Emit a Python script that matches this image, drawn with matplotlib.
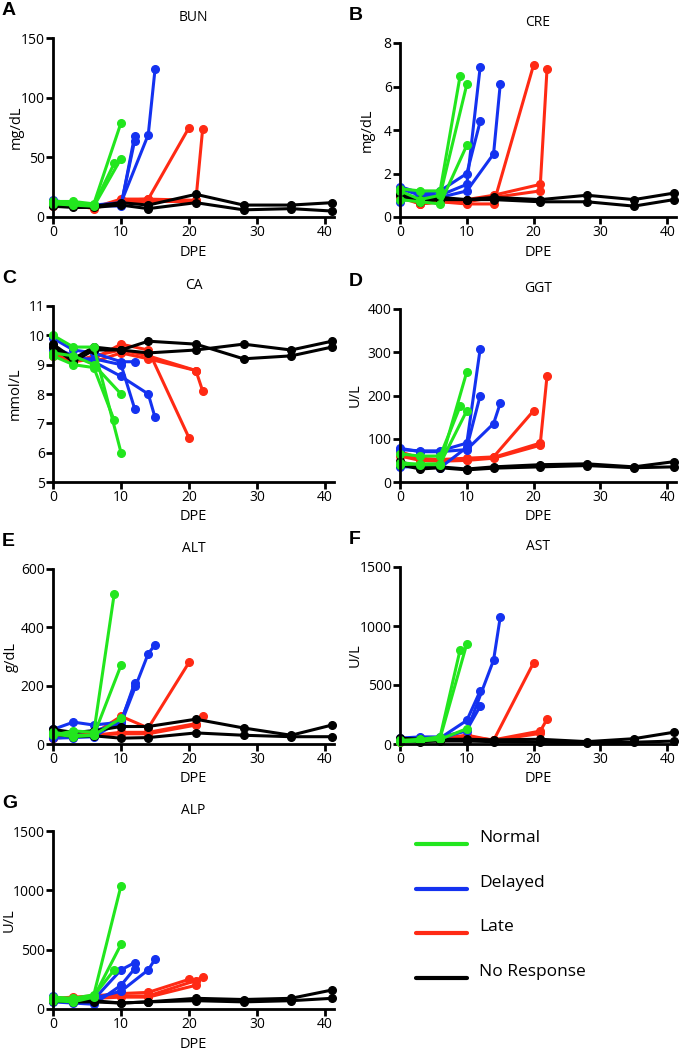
import matplotlib
matplotlib.use("Agg")
import matplotlib.pyplot as plt
from matplotlib.lines import Line2D

plt.rcParams['font.family'] = ['Open Sans', 'DejaVu Sans']

# sampling days (DPE) for each animal, by response group
days_normal = [[0, 3, 6, 9], [0, 3, 6, 10], [0, 3, 6, 10]]
days_delayed = [[0, 3, 6, 10, 12], [0, 3, 6, 10, 12], [0, 3, 6, 10, 14, 15]]
days_late = [[0, 3, 6, 10, 14, 20], [0, 3, 6, 10, 14, 21, 22], [0, 3, 6, 10, 14, 21]]
days_none = [[0, 3, 6, 10, 14, 21, 28, 35, 41], [0, 3, 6, 10, 14, 21, 28, 35, 41]]

# BUN
bun_normal = [[12, 12, 10, 45], [13, 13, 11, 79], [11, 10, 9, 49]]
bun_delayed = [[14, 11, 10, 9, 68], [13, 10, 9, 10, 64], [12, 11, 10, 12, 69, 124]]
bun_late = [[10, 10, 8, 15, 15, 75], [11, 10, 7, 14, 15, 14, 74], [9, 9, 8, 12, 13, 13]]
bun_none = [[10, 9, 9, 12, 10, 19, 10, 10, 12], [9, 8, 8, 10, 7, 12, 6, 7, 5]]

# CRE
cre_normal = [[1.3, 1.2, 1.2, 6.5], [1.2, 0.8, 1.0, 6.1], [0.8, 0.7, 0.6, 3.3]]
cre_delayed = [[1.4, 1.1, 1.0, 1.5, 6.9], [0.7, 1.0, 1.2, 2.0, 4.4], [1.3, 1.0, 0.9, 1.2, 2.9, 6.1]]
cre_late = [[1.0, 0.6, 0.7, 0.6, 0.6, 7.0], [1.1, 0.7, 0.8, 0.8, 1.0, 1.5, 6.8], [0.9, 0.6, 0.7, 0.7, 0.9, 1.2]]
cre_none = [[1.1, 0.8, 0.9, 0.8, 0.9, 0.8, 1.0, 0.8, 1.1], [1.0, 0.7, 0.8, 0.8, 0.8, 0.7, 0.7, 0.5, 0.8]]

# CA
ca_normal = [[9.3, 9.0, 8.9, 7.1], [10.0, 9.6, 9.6, 6.0], [9.4, 9.3, 9.0, 8.0]]
ca_delayed = [[9.9, 9.5, 9.4, 9.1, 9.1], [9.5, 9.2, 9.2, 9.0, 7.5], [9.6, 9.3, 9.1, 8.6, 8.0, 7.2]]
ca_late = [[9.4, 9.1, 9.2, 9.7, 9.5, 6.5], [9.5, 9.2, 9.1, 9.4, 9.2, 8.8, 8.1], [9.3, 9.1, 9.3, 9.5, 9.3, 8.8]]
ca_none = [[9.7, 9.2, 9.6, 9.5, 9.8, 9.7, 9.2, 9.3, 9.6], [9.6, 9.1, 9.5, 9.5, 9.4, 9.5, 9.7, 9.5, 9.8]]

# GGT
ggt_normal = [[65, 60, 60, 175], [45, 40, 40, 255], [40, 42, 42, 165]]
ggt_delayed = [[75, 72, 72, 90, 308], [35, 35, 33, 80, 200], [78, 70, 70, 75, 135, 182]]
ggt_late = [[70, 55, 52, 55, 58, 165], [65, 52, 50, 52, 57, 90, 245], [60, 50, 48, 50, 55, 85]]
ggt_none = [[48, 32, 35, 30, 35, 40, 42, 35, 47], [40, 30, 33, 28, 32, 35, 38, 33, 35]]

# ALT
alt_normal = [[30, 45, 40, 515], [40, 30, 30, 270], [35, 25, 30, 88]]
alt_delayed = [[50, 75, 65, 75, 210], [20, 22, 25, 80, 200], [45, 40, 45, 70, 310, 340]]
alt_late = [[20, 30, 35, 95, 55, 280], [25, 30, 30, 40, 40, 70, 95], [20, 25, 30, 35, 35, 65]]
alt_none = [[50, 40, 45, 60, 60, 85, 55, 30, 65], [35, 25, 28, 20, 22, 38, 30, 25, 25]]

# AST
ast_normal = [[30, 40, 60, 800], [25, 30, 50, 850], [20, 25, 40, 130]]
ast_delayed = [[40, 30, 50, 200, 450], [30, 25, 40, 120, 320], [50, 60, 60, 110, 710, 1075]]
ast_late = [[30, 40, 45, 75, 30, 690], [25, 35, 40, 60, 35, 110, 210], [20, 30, 35, 55, 30, 90]]
ast_none = [[50, 40, 40, 40, 35, 40, 20, 45, 100], [30, 20, 25, 25, 20, 15, 10, 15, 25]]

# ALP
alp_normal = [[90, 80, 110, 330], [100, 90, 120, 1040], [70, 60, 100, 545]]
alp_delayed = [[110, 60, 80, 330, 390], [60, 50, 40, 200, 340], [80, 70, 90, 150, 330, 420]]
alp_late = [[90, 100, 110, 130, 140, 250], [80, 80, 100, 110, 110, 240, 270], [70, 70, 90, 100, 100, 200]]
alp_none = [[80, 70, 70, 50, 60, 90, 80, 90, 160], [70, 60, 60, 50, 60, 70, 60, 70, 90]]

group_names = ["Normal", "Delayed", "Late", "No Response"]
group_colors = ["#22e61e", "#1432f0", "#ff2a14", "#000000"]
group_days = [days_normal, days_delayed, days_late, days_none]

panels = [
    ("A", "BUN", "mg/dL", (0, 150), [0, 50, 100, 150], [bun_normal, bun_delayed, bun_late, bun_none]),
    ("B", "CRE", "mg/dL", (0, 8), [0, 2, 4, 6, 8], [cre_normal, cre_delayed, cre_late, cre_none]),
    ("C", "CA", "mmol/L", (5, 11), [5, 6, 7, 8, 9, 10, 11], [ca_normal, ca_delayed, ca_late, ca_none]),
    ("D", "GGT", "U/L", (0, 400), [0, 100, 200, 300, 400], [ggt_normal, ggt_delayed, ggt_late, ggt_none]),
    ("E", "ALT", "g/dL", (0, 600), [0, 200, 400, 600], [alt_normal, alt_delayed, alt_late, alt_none]),
    ("F", "AST", "U/L", (0, 1500), [0, 500, 1000, 1500], [ast_normal, ast_delayed, ast_late, ast_none]),
    ("G", "ALP", "U/L", (0, 1500), [0, 500, 1000, 1500], [alp_normal, alp_delayed, alp_late, alp_none]),
]

# axes boxes in pixels: left, top, width, bottom, y-label centre x
boxes = [
    (53, 38, 281, 217, 16), (400, 43, 276, 217, 367),
    (53, 306, 281, 482, 15), (400, 309, 276, 482, 355),
    (53, 569, 281, 744, 11), (400, 567, 276, 744, 355),
    (53, 831, 281, 1009, 9),
]

W, H = 684, 1050
fig = plt.figure(figsize=(W / 100, H / 100), dpi=100)

draw_order = [2, 1, 3, 0]

for (letter, title, ylab, ylim, yticks, series), (l, t, w, b, ylx) in zip(panels, boxes):
    ax = fig.add_axes([l / W, 1 - b / H, w / W, (b - t) / H])
    for g in draw_order:
        for d, v in zip(group_days[g], series[g]):
            ax.plot(d, v, color=group_colors[g], lw=2.2, marker='o', ms=5.5,
                    clip_on=False, solid_capstyle='round')
    ax.set_xlim(0, 41.3)
    ax.set_ylim(*ylim)
    ax.set_yticks(yticks)
    ax.set_xticks([0, 10, 20, 30, 40])
    for s in ['top', 'right']:
        ax.spines[s].set_visible(False)
    for s in ['left', 'bottom']:
        ax.spines[s].set_linewidth(2)
    ax.tick_params(width=2, length=5, labelsize=10, pad=1)
    ax.set_title(title, fontsize=10, pad=12)
    ax.set_xlabel("DPE", fontsize=10.5, labelpad=3)
    ax.set_ylabel(ylab, fontsize=10.5, va='center')
    ax.yaxis.set_label_coords((ylx - l) / w, 0.5)
    fig.text((l - 51) / W, 1 - (t - 36) / H, letter, fontsize=14, fontweight='bold',
             family='Liberation Sans', va='top', ha='left')

# legend drawn by hand at the bottom right
leg_y = [844, 889, 933, 978]
for name, col, y in zip(group_names, group_colors, leg_y):
    fig.add_artist(Line2D([416 / W, 467 / W], [1 - y / H, 1 - y / H], color=col, lw=3,
                          solid_capstyle='round'))
    fig.text(479 / W, 1 - (y - 6) / H, name, fontsize=12.5, va='center', ha='left')

fig.savefig("out.png", dpi=100)
